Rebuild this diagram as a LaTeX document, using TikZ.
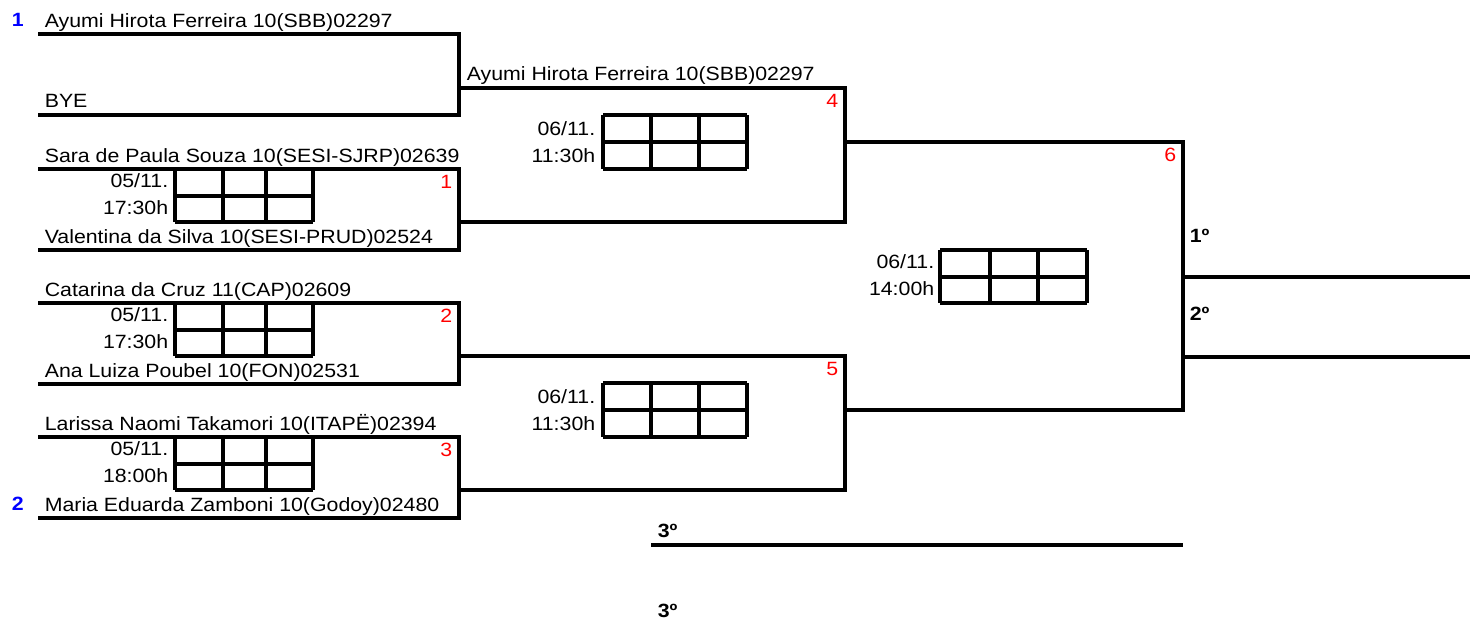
\documentclass[tikz,border=0pt]{standalone}
\usepackage{fontspec}
\setmainfont{Liberation Sans}[FakeStretch=1.11]
\begin{document}
\begin{tikzpicture}[x=0.5pt,y=-0.5pt,line width=1.8pt,line join=miter,
    every node/.style={inner sep=0pt,font=\fontsize{9.6}{11}\selectfont},
    player/.style={anchor=base west},
    slot/.style={anchor=base east},
    gameno/.style={anchor=base east,text=red},
    seed/.style={anchor=base west,text=blue,font=\fontsize{9.6}{11}\selectfont\bfseries},
    place/.style={anchor=base west,font=\fontsize{9.6}{11}\selectfont\bfseries}]
\useasboundingbox (0,0) rectangle (1481,623);
% first round, bye
\node[seed] (s1) at (10,26) {1};
\node[seed] (s2) at (10,510) {2};
\node[player] (p0a) at (43,27) {Ayumi Hirota Ferreira 10(SBB)02297};
\node[player] (p0b) at (43,107) {BYE};
\draw (38,34) -- (459,34) -- (459,115) -- (38,115);
% first round, games 1-3
\foreach \ty/\nA/\nB/\tm [count=\k] in
    {169/Sara de Paula Souza 10(SESI-SJRP)02639/Valentina da Silva 10(SESI-PRUD)02524/17:30h,
     303/Catarina da Cruz 11(CAP)02609/Ana Luiza Poubel 10(FON)02531/17:30h,
     437/Larissa Naomi Takamori 10(ITAPË)02394/Maria Eduarda Zamboni 10(Godoy)02480/18:00h}
{
    \draw (38,\ty) -- (459,\ty) -- (459,\ty+81) -- (38,\ty+81);
    \node[player] (p\k a) at (43,\ty-7) {\nA};
    \node[player] (p\k b) at (43,\ty+74) {\nB};
    \node[gameno] (g\k) at (454,\ty+19) {\k};
    \node[slot] (d\k) at (170,\ty+18) {05/11.};
    \node[slot] (h\k) at (170,\ty+45) {\tm};
    \foreach \cx in {175,223,266,313}
        {\draw (\cx,\ty) -- (\cx,\ty+53);}
    \foreach \ry in {0,27,53}
        {\draw (175,\ty+\ry) -- (313,\ty+\ry);}
}
% second round, games 4-5
\node[player] (w4) at (465,80) {Ayumi Hirota Ferreira 10(SBB)02297};
\foreach \ty/\k in {88/4,356/5}
{
    \draw (459,\ty) -- (845,\ty) -- (845,\ty+134) -- (459,\ty+134);
    \node[gameno] (g\k) at (840,\ty+19) {\k};
    \node[slot] (d\k) at (597,\ty+47) {06/11.};
    \node[slot] (h\k) at (597,\ty+74) {11:30h};
    \foreach \cx in {603,651,699,747}
        {\draw (\cx,\ty+27) -- (\cx,\ty+81);}
    \foreach \ry in {27,54,81}
        {\draw (603,\ty+\ry) -- (747,\ty+\ry);}
}
% final
\draw (845,142) -- (1183,142) -- (1183,410) -- (845,410);
\node[gameno] (g6) at (1178,161) {6};
\node[slot] (d6) at (936,268) {06/11.};
\node[slot] (h6) at (936,295) {14:00h};
\foreach \cx in {940,990,1038,1087}
    {\draw (\cx,250) -- (\cx,303);}
\foreach \ry in {250,277,303}
    {\draw (940,\ry) -- (1087,\ry);}
\draw (1183,277) -- (1470,277);
\draw (1183,357) -- (1470,357);
\node[place] (first) at (1188,242) {1º};
\node[place] (second) at (1188,320) {2º};
% third place
\node[place] (thirdA) at (656,537) {3º};
\draw (651,545) -- (1183,545);
\node[place] (thirdB) at (656,617) {3º};
\end{tikzpicture}
\end{document}
